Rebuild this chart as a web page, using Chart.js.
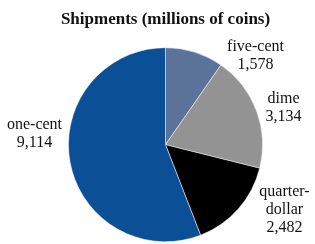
<!DOCTYPE html>
<html>
<head>
<meta charset="utf-8">
<script src="https://cdn.jsdelivr.net/npm/chart.js@4/dist/chart.umd.min.js"></script>
<style>
  html, body { margin: 0; padding: 0; background: #fff; }
  #wrap { width: 315px; height: 244px; }
</style>
</head>
<body>
<div id="wrap"><canvas id="coinChart"></canvas></div>
<script>
// data, clockwise from 12 o'clock
const coinNames = ["five-cent", "dime", "quarter-dollar", "one-cent"];
const labelLines = [["five-cent"], ["dime"], ["quarter-", "dollar"], ["one-cent"]];
const shipments = [1578, 3134, 2482, 9114];

const sliceColors = ["#5b7399", "#939393", "#000000", "#0b4f96"];
// label anchor relative to pie centre (x centre, first baseline)
const labelOffsets = [[90, -94], [118, -42], [119, 51], [-131, -16]];

const fmtNum = (n) => Number(n).toLocaleString("en-US");

// outside labels: name lines + value
const outsideLabels = {
  id: "outsideLabels",
  afterDatasetsDraw(chart) {
    const ctx = chart.ctx;
    const arcs = chart.getDatasetMeta(0).data;
    ctx.save();
    ctx.font = "16px 'Liberation Serif', 'Times New Roman', serif";
    ctx.fillStyle = "#111";
    ctx.textAlign = "center";
    ctx.textBaseline = "alphabetic";
    arcs.forEach((arc, i) => {
      const [dx, dy] = labelOffsets[i];
      const lines = labelLines[i].concat([fmtNum(shipments[i])]);
      lines.forEach((t, j) => ctx.fillText(t, arc.x + dx, arc.y + dy + j * 18));
    });
    ctx.restore();
  }
};

new Chart(document.getElementById("coinChart"), {
  type: "pie",
  data: {
    labels: coinNames,
    datasets: [{
      data: shipments,
      backgroundColor: sliceColors,
      borderColor: "#ffffff",
      borderWidth: 0.5,
      hoverOffset: 0
    }]
  },
  options: {
    responsive: true,
    maintainAspectRatio: false,
    animation: false,
    events: [],
    // wide area so the title is not squeezed; pie radius is set by the height
    layout: { padding: { left: 16, right: 0, top: 0, bottom: 2 } },
    plugins: {
      legend: { display: false },
      tooltip: { enabled: false },
      title: {
        display: true,
        text: "Shipments (millions of coins)",
        color: "#111",
        font: { family: "'Liberation Serif', 'Times New Roman', serif", size: 17, weight: "bold" },
        padding: { top: 9, bottom: 18 }
      }
    }
  },
  plugins: [outsideLabels]
});
</script>
</body>
</html>
